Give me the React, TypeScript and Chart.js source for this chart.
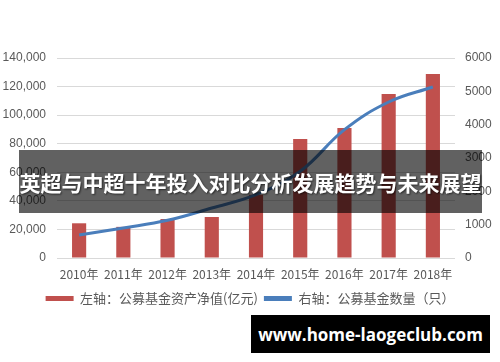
import React, { useEffect, useRef } from "react";
import { Chart, registerables } from "chart.js";

Chart.register(...registerables);

const categories = ["2010年", "2011年", "2012年", "2013年", "2014年", "2015年", "2016年", "2017年", "2018年"];
const assetValues = [24300, 21800, 27300, 28700, 44300, 83300, 91000, 114800, 128800];
const fundCounts = [690, 900, 1130, 1500, 1900, 2600, 3850, 4680, 5130];
const leftTickMax = 140000;
const leftTickStep = 20000;
const rightTickMax = 6000;
const rightTickStep = 1000;
const seriesLabels = ["左轴：公募基金资产净值(亿元)", "右轴：公募基金数量（只）"];
const titleText = "英超与中超十年投入对比分析发展趋势与未来展望";
const siteText = "www.home-laogeclub.com";

const BAR_COLOR = "#c0504d";
const LINE_COLOR = "#4a7ebb";
const TEXT_COLOR = "#595959";
const FONT_LATIN = "'Liberation Sans', 'Noto Sans CJK SC', sans-serif";
const FONT_CJK = "'Noto Sans CJK SC', sans-serif";

export default function App() {
  const canvasRef = useRef<HTMLCanvasElement | null>(null);

  useEffect(() => {
    const canvas = canvasRef.current;
    if (!canvas) return;
    const chart = new Chart(canvas, {
      type: "bar",
      data: {
        labels: categories,
        datasets: [
          {
            type: "bar",
            label: seriesLabels[0],
            data: assetValues,
            backgroundColor: BAR_COLOR,
            borderWidth: 0,
            yAxisID: "y",
            order: 1,
            barPercentage: 0.32,
            categoryPercentage: 1,
          },
          {
            type: "line",
            label: seriesLabels[1],
            data: fundCounts,
            borderColor: LINE_COLOR,
            backgroundColor: LINE_COLOR,
            borderWidth: 3,
            pointRadius: 0,
            tension: 0.4,
            fill: false,
            yAxisID: "y1",
            order: 0,
          },
        ],
      },
      options: {
        responsive: false,
        animation: false,
        devicePixelRatio: 1,
        layout: { padding: { top: 58, bottom: 47, left: 0, right: 0 } },
        plugins: {
          tooltip: { enabled: false },
          legend: {
            display: true,
            position: "bottom",
            labels: {
              boxWidth: 28,
              boxHeight: 5,
              padding: 6,
              color: TEXT_COLOR,
              font: { family: FONT_CJK, size: 13 },
              sort: (a: any, b: any) => a.datasetIndex - b.datasetIndex,
              generateLabels: (ch: any) => {
                const base = Chart.defaults.plugins.legend.labels.generateLabels(ch);
                return base.map((l: any) => ({ ...l, lineWidth: 0 }));
              },
            },
          },
        },
        scales: {
          x: {
            grid: { display: false, drawTicks: false },
            border: { display: false },
            ticks: { color: TEXT_COLOR, font: { family: FONT_CJK, size: 12 }, padding: 9, maxRotation: 0 },
            afterFit: (s: any) => {
              s.height = 28;
            },
          },
          y: {
            position: "left",
            min: 0,
            max: leftTickMax,
            grid: { color: "#d9d9d9", lineWidth: 1, drawTicks: false },
            border: { display: false },
            ticks: {
              stepSize: leftTickStep,
              color: TEXT_COLOR,
              font: { family: FONT_LATIN, size: 12 },
              padding: 11,
              callback: (v: any) => Number(v).toLocaleString("en-US"),
            },
            afterFit: (s: any) => {
              s.width = 57;
            },
          },
          y1: {
            position: "right",
            min: 0,
            max: rightTickMax,
            grid: { display: false, drawTicks: false },
            border: { display: false },
            ticks: {
              stepSize: rightTickStep,
              color: TEXT_COLOR,
              font: { family: FONT_LATIN, size: 12 },
              padding: 10,
              callback: (v: any) => String(v),
            },
            afterFit: (s: any) => {
              s.width = 45;
            },
          },
        },
      },
    });
    return () => chart.destroy();
  }, []);

  return (
    <div style={{ position: "absolute", left: 0, top: 0, width: 500, height: 362, background: "#fff", overflow: "hidden" }}>
      <canvas ref={canvasRef} width={500} height={362} style={{ display: "block" }} />
      <div
        style={{
          position: "absolute",
          left: 19,
          top: 150,
          width: 463,
          height: 63,
          background: "rgba(0,0,0,0.62)",
          display: "flex",
          alignItems: "center",
          justifyContent: "center",
          color: "#fff",
          fontFamily: FONT_CJK,
          fontWeight: 700,
          fontSize: 21,
          whiteSpace: "nowrap",
          textShadow: "1px 1px 2px rgba(0,0,0,0.6)",
        }}
      >
        {titleText}
      </div>
      <div
        style={{
          position: "absolute",
          left: 251,
          top: 315,
          width: 239,
          height: 38,
          background: "#000",
          display: "flex",
          alignItems: "center",
          justifyContent: "center",
          color: "#fff",
          fontFamily: "'Open Sans', sans-serif",
          fontWeight: 700,
          fontSize: 17,
          whiteSpace: "nowrap",
        }}
      >
        {siteText}
      </div>
    </div>
  );
}
